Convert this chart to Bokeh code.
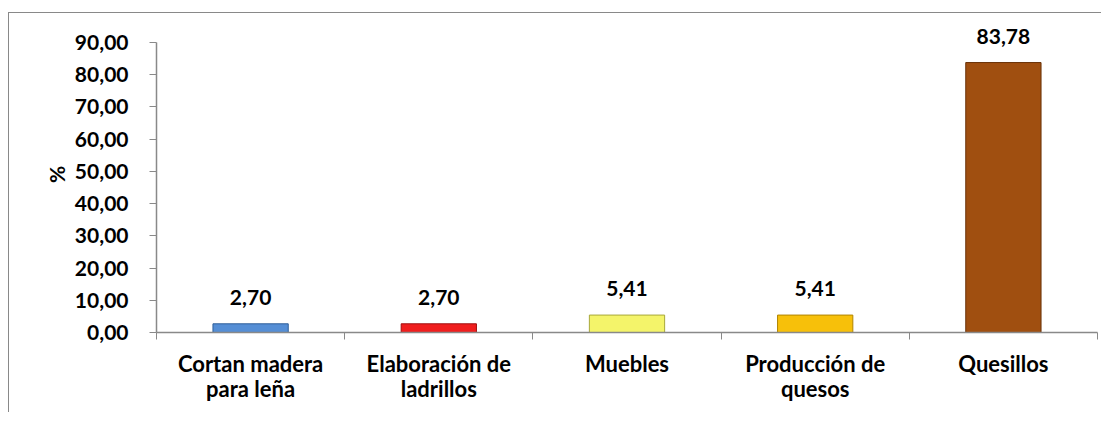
from bokeh.plotting import figure
from bokeh.models import Range1d, FixedTicker, ColumnDataSource
from bokeh.core.properties import value
from bokeh.embed import file_html
from bokeh.resources import INLINE

categories = ["Cortan madera\npara leña", "Elaboración de\nladrillos", "Muebles",
              "Producción de\nquesos", "Quesillos"]
values = [2.70, 2.70, 5.41, 5.41, 83.78]
labels = ["2,70", "2,70", "5,41", "5,41", "83,78"]
colors = ["#558ED5", "#F01E1E", "#F4F46A", "#F7C00A", "#A04F10"]
edge_colors = ["#2F5F9A", "#A00F0F", "#A8A83A", "#B08400", "#6A3208"]
y_ticks = [0, 10, 20, 30, 40, 50, 60, 70, 80, 90]
y_tick_labels = ["0,00", "10,00", "20,00", "30,00", "40,00", "50,00",
                 "60,00", "70,00", "80,00", "90,00"]

FONT = "Lato"
GRAY = "#898989"

xs = [i + 0.5 for i in range(len(categories))]
src = ColumnDataSource(dict(x=xs, top=values, color=colors, edge=edge_colors, label=labels))

p = figure(width=1093, height=400, output_backend="svg", toolbar_location=None,
           x_range=Range1d(0, len(categories)), y_range=Range1d(0, 98.07),
           min_border_left=147, min_border_right=5, min_border_top=3, min_border_bottom=81)
p.styles = {"border-left": f"1px solid {GRAY}", "border-top": f"1px solid {GRAY}",
            "margin-top": "12px", "margin-left": "8px"}
p.outline_line_color = None
p.xgrid.visible = False
p.ygrid.visible = False
p.background_fill_color = "white"

p.vbar(x="x", top="top", bottom=0, width=0.4, source=src,
       fill_color="color", line_color="edge", line_width=1)
p.text(x="x", y="top", text="label", source=src, text_align="center",
       text_baseline="bottom", y_offset=-19, text_font=value(FONT),
       text_font_style="bold", text_font_size="21px", text_color="black")

# x axis
xa = p.xaxis[0]
xa.ticker = FixedTicker(ticks=xs, minor_ticks=list(range(len(categories) + 1)))
xa.major_label_overrides = {x: c for x, c in zip(xs, categories)}
xa.major_tick_line_color = None
xa.major_tick_out = 0
xa.major_tick_in = 0
xa.minor_tick_line_color = GRAY
xa.minor_tick_out = 7
xa.minor_tick_in = 0
xa.axis_line_color = GRAY
xa.axis_line_width = 1.5
xa.major_label_standoff = 10
xa.major_label_text_font = FONT
xa.major_label_text_font_style = "bold"
xa.major_label_text_font_size = "22px"
xa.major_label_text_line_height = 0.95
xa.major_label_text_color = "black"

# y axis
ya = p.yaxis[0]
ya.ticker = FixedTicker(ticks=y_ticks, minor_ticks=[])
ya.bounds = (0, 90)
ya.major_label_overrides = {t: l for t, l in zip(y_ticks, y_tick_labels)}
ya.major_tick_line_color = GRAY
ya.major_tick_out = 7
ya.major_tick_in = 0
ya.axis_line_color = GRAY
ya.axis_line_width = 1.5
ya.major_label_standoff = 21
ya.major_label_text_font = FONT
ya.major_label_text_font_style = "bold"
ya.major_label_text_font_size = "21px"
ya.major_label_text_color = "black"
ya.axis_label = "%"
ya.axis_label_text_font = FONT
ya.axis_label_text_font_style = "bold"
ya.axis_label_text_font_size = "21px"
ya.axis_label_text_color = "black"
ya.axis_label_standoff = 3

open("out.html", "w").write(file_html(p, INLINE))
